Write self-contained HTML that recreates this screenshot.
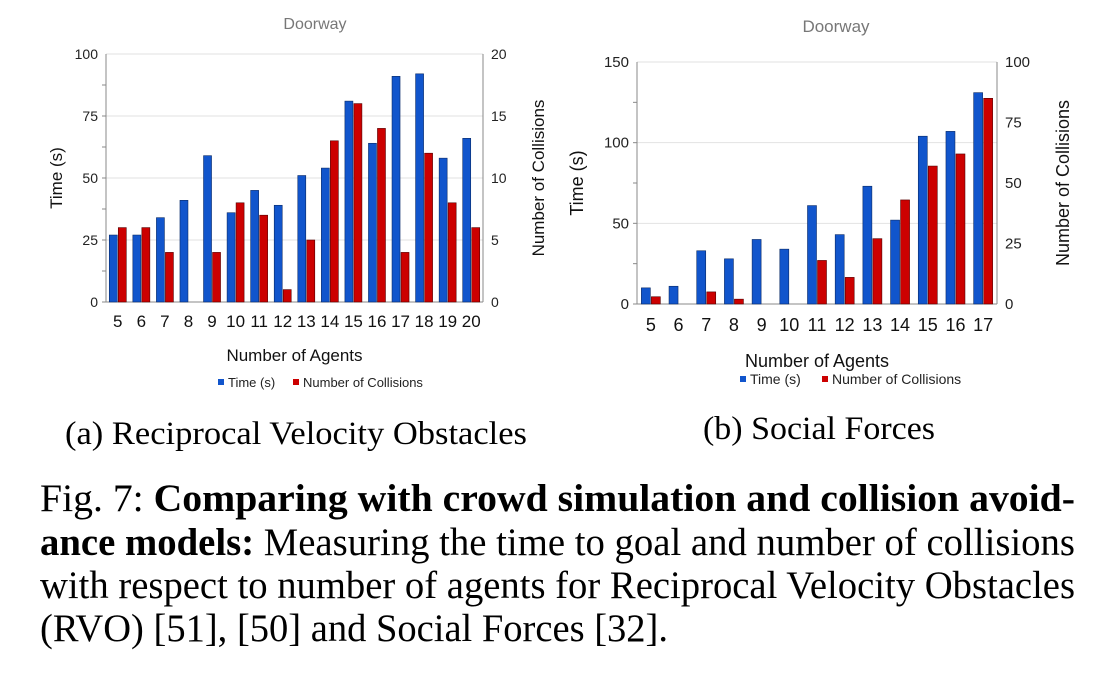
<!DOCTYPE html>
<html><head><meta charset="utf-8"><style>
html,body{margin:0;padding:0;background:#fff;width:1100px;height:679px;overflow:hidden}
svg{display:block}
.s{font-family:"Liberation Sans",sans-serif}
.t{font-family:"Liberation Serif",serif;fill:#000}
</style></head><body>
<svg id="fig" width="1100" height="679" viewBox="0 0 1100 679">
<text class="t" x="65" y="444" font-size="33" textLength="462" lengthAdjust="spacingAndGlyphs">(a) Reciprocal Velocity Obstacles</text>
<text class="t" x="703" y="439" font-size="33" textLength="232" lengthAdjust="spacingAndGlyphs">(b) Social Forces</text>
<g>
<text class="t" x="40" y="511" font-size="39" textLength="1035" lengthAdjust="spacingAndGlyphs">Fig. 7: <tspan font-weight="bold">Comparing with crowd simulation and collision avoid-</tspan></text>
<text class="t" x="40" y="555" font-size="39" textLength="1035" lengthAdjust="spacingAndGlyphs"><tspan font-weight="bold">ance models:</tspan> Measuring the time to goal and number of collisions</text>
<text class="t" x="40" y="598" font-size="39" textLength="1035" lengthAdjust="spacingAndGlyphs">with respect to number of agents for Reciprocal Velocity Obstacles</text>
<text class="t" x="40" y="641" font-size="39" textLength="628" lengthAdjust="spacingAndGlyphs">(RVO) [51], [50] and Social Forces [32].</text>
</g>
</svg>
<script>
const catsA=[5,6,7,8,9,10,11,12,13,14,15,16,17,18,19,20];
const timeA=[27,27,34,41,59,36,45,39,51,54,81,64,91,92,58,66];
const collA=[6,6,4,0,4,8,7,1,5,13,16,14,4,12,8,6];
const ticksLA=[0,25,50,75,100];
const ticksRA=[0,5,10,15,20];
const catsB=[5,6,7,8,9,10,11,12,13,14,15,16,17];
const timeB=[10,11,33,28,40,34,61,43,73,52,104,107,131];
const collB=[3,0,5,2,0,0,18,11,27,43,57,62,85];
const ticksLB=[0,50,100,150];
const ticksRB=[0,25,50,75,100];

const NS="http://www.w3.org/2000/svg";
const svg=document.getElementById('fig');
function mk(tag,attrs,parent,txt){const e=document.createElementNS(NS,tag);for(const k in attrs)e.setAttribute(k,attrs[k]);if(txt!==undefined)e.textContent=txt;parent.appendChild(e);return e;}

function chart(o){
  const g=mk('g',{},svg);
  
  
  const lmax=o.tl[o.tl.length-1], rmax=o.tr[o.tr.length-1];
  const yL=v=>o.y1-(v/lmax)*(o.y1-o.y0);
  const yR=v=>o.y1-(v/rmax)*(o.y1-o.y0);
  const bw=(o.x1-o.x0)/o.cats.length;
  const xC=i=>o.x0+bw*(i+0.5);
  o.tl.forEach(v=>{
    if(v>0){const l=mk('line',{x1:o.x0,x2:o.x1,y1:yL(v),y2:yL(v),stroke:'#e2e2e2','stroke-width':1},g);
    
    }
    const t=mk('text',{x:o.x0-8,y:yL(v)+5,'text-anchor':'end','font-size':o.fs,fill:'#222',class:'s'},g,v);
    
    
  });
  for(let k=0;k<(o.tl.length-1)*2;k++){const v=lmax*k/((o.tl.length-1)*2);
    mk('line',{x1:o.x0-4,x2:o.x0,y1:yL(v),y2:yL(v),stroke:'#888'},g);}
  o.tr.forEach(v=>{
    const t=mk('text',{x:o.x1+8,y:yR(v)+5,'font-size':o.fs,fill:'#222',class:'s'},g,v);
    
    
  });
  mk('line',{x1:o.x0,x2:o.x0,y1:o.y0,y2:o.y1,stroke:'#888'},g);
  mk('line',{x1:o.x1,x2:o.x1,y1:o.y0,y2:o.y1,stroke:'#888'},g);
  mk('line',{x1:o.x0,x2:o.x1,y1:o.y1,y2:o.y1,stroke:'#888'},g);
  const w=o.bar;
  o.cats.forEach((c,i)=>{
    const bt=mk('rect',{x:xC(i)-w-0.5,y:yL(o.time[i]),width:w,height:o.y1-yL(o.time[i]),fill:'#1155cc',stroke:'#0a2a66','stroke-width':0.6},g);
    
    
    const br=mk('rect',{x:xC(i)+0.5,y:yR(o.coll[i]),width:w,height:o.y1-yR(o.coll[i]),fill:'#cc0000',stroke:'#550000','stroke-width':0.6},g);
    
    
    const t=mk('text',{x:xC(i),y:o.xly,'text-anchor':'middle','font-size':o.fs+3,fill:'#111',class:'s'},g,c);
    
    
  });
  const ti=mk('text',{x:o.tx,y:o.ty,'text-anchor':'middle','font-size':o.fs+2,fill:'#777',class:'s'},g,'Doorway');
  
  
  const xa=mk('text',{x:(o.x0+o.x1)/2,y:o.xay,'text-anchor':'middle','font-size':o.fs+3,fill:'#111',class:'s'},g,'Number of Agents');
  
  
  const ym=(o.y0+o.y1)/2;
  const ya=mk('text',{x:o.ylx,y:ym,'text-anchor':'middle','font-size':o.fs+3,fill:'#111',class:'s',transform:`rotate(-90 ${o.ylx} ${ym})`},g,'Time (s)');
  
  
  const yr=mk('text',{x:o.yrx,y:ym,'text-anchor':'middle','font-size':o.fs+3,fill:'#111',class:'s',transform:`rotate(-90 ${o.yrx} ${ym})`},g,'Number of Collisions');
  
  
  const lg=mk('g',{},g);
  
  
  mk('rect',{x:o.lgx,y:o.lgy-8,width:6,height:6,fill:'#1155cc'},lg);
  mk('text',{x:o.lgx+10,y:o.lgy,'font-size':o.fs-1,fill:'#222',class:'s'},lg,'Time (s)');
  mk('rect',{x:o.lgx+o.lg2,y:o.lgy-8,width:6,height:6,fill:'#cc0000'},lg);
  mk('text',{x:o.lgx+o.lg2+10,y:o.lgy,'font-size':o.fs-1,fill:'#222',class:'s'},lg,'Number of Collisions');
}
chart({name:'chart-rvo',cats:catsA,time:timeA,coll:collA,tl:ticksLA,tr:ticksRA,x0:106,x1:483,y0:54,y1:302,bar:8,fs:14,
  xly:327,tx:315,ty:29,xay:361,ylx:62,yrx:544,lgx:218,lgy:387,lg2:75});
chart({name:'chart-social-forces',cats:catsB,time:timeB,coll:collB,tl:ticksLB,tr:ticksRB,x0:637,x1:997,y0:62,y1:304,bar:9,fs:15,
  xly:331,tx:836,ty:32,xay:367,ylx:583,yrx:1069,lgx:740,lgy:384,lg2:82});
</script>
</body></html>
